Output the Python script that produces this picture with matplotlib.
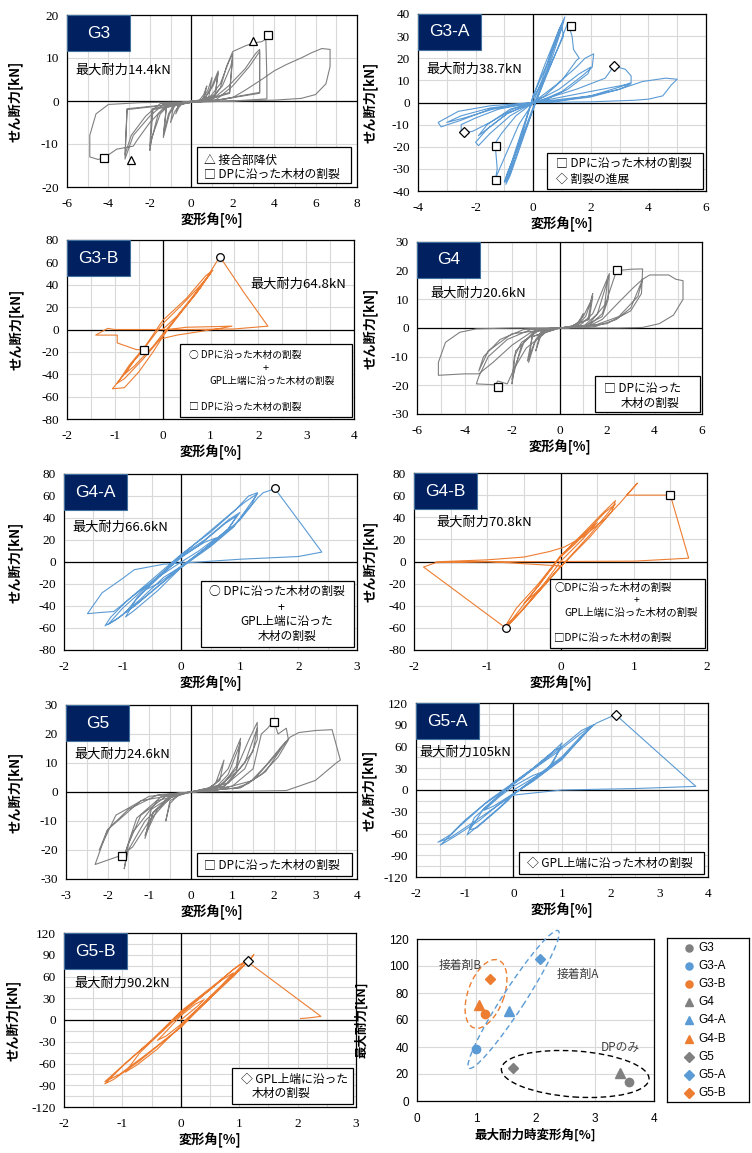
import numpy as np
import matplotlib.pyplot as plt
from matplotlib.patches import Rectangle, Ellipse
import matplotlib.transforms as mtransforms

plt.rcParams['font.family'] = ['Noto Sans CJK JP', 'DejaVu Sans']
plt.rcParams['axes.unicode_minus'] = False

W, H = 752, 1153
GRAY = '#808080'
BLUE = '#5b9bd5'
ORANGE = '#ed7d31'
NAVY = '#002060'

# ---- hysteresis paths (deformation angle [%], shear force [kN]) ----
g3_path = [
    (0, 0), (0.4, 0.2), (0.6, 1.5), (0.75, 3.5), (0.6, 0.5), (0.2, -0.2), (-0.4, -0.4), (-0.6, -1.5), (-0.75, -3), (-0.6, -0.5), (0, 0),
    (0.5, 0.2), (0.8, 2.5), (1.0, 5.5), (0.85, 1), (0.3, -0.2), (-0.5, -0.4), (-0.8, -2.5), (-1.0, -5), (-0.85, -1), (0, -0.2),
    (0.6, 0.2), (1.0, 3.5), (1.3, 7), (1.15, 1.5), (0.4, 0), (-0.7, -0.5), (-1.05, -3), (-1.35, -8.5), (-1.2, -1.5), (0, -0.3),
    (0.6, 0.3), (1.05, 3.5), (1.3, 6.5), (1.15, 1.2), (0.4, 0), (-0.8, -0.5), (-1.1, -3), (-1.35, -8), (-1.2, -1.2), (0, -0.3),
    (0.8, 0.3), (1.4, 4), (1.8, 9), (2.0, 11), (1.85, 2), (0.6, 0), (-1.0, -0.6), (-1.5, -3), (-1.9, -8.5), (-2.0, -11.5), (-1.85, -2), (0, -0.3),
    (0.9, 0.3), (1.5, 3.5), (1.9, 8), (2.0, 10), (1.85, 1.8), (0.6, 0), (-1.1, -0.6), (-1.6, -3), (-2.0, -10.5), (-1.9, -1.8), (0, -0.3),
    (1.0, 0.3), (1.8, 3.5), (2.6, 7.5), (3.1, 11), (3.3, 12), (3.3, 2), (1.0, 0), (-1.3, -0.6), (-2.0, -3.5), (-2.8, -8), (-3.2, -13.5), (-3.1, -2), (0, -0.3),
    (1.2, 0.3), (2.0, 3.5), (2.8, 8), (3.3, 11.5), (3.3, 1.8), (1.0, 0), (-1.5, -0.6), (-2.2, -3.5), (-2.9, -8), (-3.2, -12.5), (-3.1, -1.8), (0, -0.3),
    (1.0, 0.3), (1.4, 3), (1.7, 8), (2.0, 11.5), (2.6, 12.8), (3.0, 13.5), (3.4, 13.8), (3.6, 14.4), (3.65, 5), (3.65, 0.5), (2, 0),
    (-2.5, -0.4), (-4.0, -0.8), (-4.6, -3), (-4.9, -8), (-4.9, -13), (-4.5, -13.6), (-4.2, -13.2), (-3.6, -11.2), (-2.8, -10.5), (-2.6, -9),
    (-2.0, -5), (-1.4, -2), (-0.8, -0.5), (0, -0.3),
    (2.0, 0), (4.0, 0.2), (5.3, 0.6), (6.0, 1.5), (6.5, 4), (6.7, 8), (6.7, 12), (6.3, 12.2), (5.8, 11.2), (5.3, 10), (4.6, 8.5),
    (4.0, 7), (3.4, 5), (2.6, 2.5), (2.0, 0.8), (1.5, 0.3),
]
g3a_path = [
    (0, 0), (0.3, 10), (0.6, 22), (0.9, 33), (1.1, 38.7), (1.0, 34), (0.5, 18), (0, 3), (-0.3, -10), (-0.6, -22), (-0.85, -33), (-0.95, -37), (-0.8, -33), (-0.4, -18), (0, -3),
    (0.35, 9), (0.7, 22), (1.0, 34), (1.05, 30), (0.5, 14), (0, 2), (-0.4, -13), (-0.75, -27), (-1.0, -36), (-0.9, -32), (-0.4, -16), (0, -2),
    (0.4, 12), (0.8, 28), (1.05, 37), (0.9, 33), (0.4, 17), (0, 3), (-0.4, -15), (-0.8, -30), (-0.95, -36), (-0.8, -32), (-0.4, -17), (0, -3),
    (0.3, 7), (0.9, 26), (1.2, 36), (1.35, 30), (1.4, 24), (1.6, 20), (1.5, 19), (1.0, 10), (0.4, 3), (0, 0),
    (-0.5, -10), (-1.0, -25), (-1.3, -34), (-1.25, -30), (-1.3, -22), (-1.35, -19), (-1.1, -14), (-0.6, -6), (0, 0),
    (0.8, 8), (1.5, 16), (1.8, 20), (2.1, 22), (2.05, 16), (1.7, 12), (1.0, 5), (0.3, 1), (0, 0), (-0.8, -6), (-1.5, -14), (-1.9, -19.5), (-2.0, -18), (-1.6, -12), (-0.9, -5), (0, 0),
    (0.9, 6), (1.6, 13), (2.0, 16), (1.9, 13), (1.2, 6), (0.4, 1), (0, 0), (-0.9, -5), (-1.6, -12), (-1.9, -15), (-1.6, -10), (-0.8, -3), (0, 0),
    (1.5, 6), (2.5, 11), (2.8, 16.5), (3.2, 15), (3.4, 12), (3.4, 9), (3.0, 7), (2.0, 3), (1.0, 1), (0, 0),
    (-1.2, -3), (-2.0, -7), (-2.5, -10), (-2.5, -14), (-2.1, -13), (-1.5, -9), (-0.7, -3), (0, 0),
    (1.6, 4), (2.6, 6.5), (3.4, 8.5), (3.0, 6), (2.0, 2.5), (0.8, 0.5), (0, 0), (-1.4, -3), (-2.4, -7), (-3.0, -9), (-2.5, -6), (-1.5, -2.5), (0, 0),
    (2.0, 3), (3.0, 6), (3.8, 9.5), (4.6, 11), (5.0, 10.5), (4.8, 8), (4.5, 3), (4.0, 1.5), (3.5, 1), (2.0, 0.3), (0, 0),
    (-1.5, -1.5), (-2.6, -4), (-3.3, -9), (-3.2, -11), (-2.5, -8), (-1.5, -3), (0, 0),
]
g3b_path = [
    (0, 0), (0.3, 12), (0.6, 28), (0.9, 45), (1.0, 50), (0.8, 40), (0.4, 22), (0, 5), (-0.3, -12), (-0.6, -28), (-0.8, -40), (-0.6, -33), (-0.2, -15), (0, -4),
    (0.35, 14), (0.7, 32), (1.05, 53), (0.9, 48), (0.5, 28), (0, 8), (-0.35, -14), (-0.7, -32), (-0.95, -48), (-0.8, -44), (-0.4, -26), (0, -6),
    (0.4, 16), (0.8, 38), (1.15, 62), (1.2, 64.8), (1.7, 33), (2.2, 3), (1.5, 0.5), (0.5, 0), (-0.5, 0), (-1.0, 0), (-1.15, 1), (-1.4, -5),
    (-0.95, -5), (-0.95, -12), (-0.55, -18), (-0.4, -18), (-0.6, -28), (-0.8, -40), (-1.05, -53), (-0.8, -52), (-0.5, -38), (-0.2, -20),
    (0.1, 0), (0.5, 2), (1.0, 2.5), (1.45, 3), (1.2, 1), (0.3, -5), (0, -8),
]
g4_path = [
    (0, 0), (0.5, 0.5), (0.8, 2), (1.0, 5), (0.8, 1), (0, 0), (-0.5, -0.5), (-0.8, -3), (-1.0, -8), (-0.8, -1.5), (0, 0),
    (0.6, 0.5), (1.0, 4), (1.3, 9), (1.4, 12), (1.2, 3), (0.4, 0.3), (-0.6, -0.5), (-1.0, -4), (-1.3, -12), (-1.15, -3), (0, 0),
    (0.7, 0.5), (1.1, 4), (1.4, 11), (1.25, 3), (0.4, 0.3), (-0.7, -0.5), (-1.05, -5), (-1.35, -11.5), (-1.15, -3), (0, 0),
    (0.8, 0.5), (1.4, 5), (1.8, 13), (2.1, 19), (2.05, 10), (1.8, 4), (1.0, 0.5), (0, 0), (-0.9, -0.5), (-1.5, -5), (-1.9, -14), (-2.0, -19.5), (-1.9, -10), (-1.6, -5), (-0.8, -0.5), (0, 0),
    (1.0, 0.5), (1.6, 5), (2.0, 16), (2.05, 18), (1.9, 8), (1.2, 1), (0, 0), (-1.0, -0.5), (-1.6, -6), (-2.0, -18), (-1.85, -8), (-1.0, -1), (0, 0),
    (1.2, 0.5), (1.8, 5), (2.2, 15), (2.4, 20), (3.0, 20.5), (3.5, 20.6), (3.45, 12), (3.0, 6), (2.0, 1.5), (0.6, 0.3),
    (-1.2, -0.5), (-2.2, -4), (-3.0, -10), (-3.4, -17), (-3.5, -19.5), (-2.7, -19.8), (-2.6, -18.5), (-2.2, -19.5), (-1.9, -14), (-1.4, -7), (-0.5, -1), (0, 0),
    (1.5, 0.5), (2.4, 3), (3.0, 7), (3.5, 17), (3.3, 11), (2.5, 4), (1.5, 1), (0, 0), (-1.5, -0.5), (-2.5, -4), (-3.2, -10), (-3.4, -15), (-3.0, -8), (-2.0, -2), (0, 0),
    (2.5, 0), (3.5, 0.2), (4.2, 1.5), (4.8, 4.5), (5.2, 10), (5.2, 16.5), (4.9, 17), (4.6, 18.5), (3.8, 18.5), (3.5, 17), (3.1, 14), (2.5, 9), (1.8, 3), (1.2, 0.5),
    (0, 0), (-2.0, 0), (-3.5, -0.3), (-4.2, -1.5), (-4.8, -5), (-5.1, -12), (-5.1, -16.5), (-4.0, -16), (-3.4, -16), (-2.8, -12), (-2.0, -6), (-1.2, -1.5), (0, 0),
]
g4a_path = [
    (0, 0), (0.3, 10), (0.6, 22), (0.4, 18), (0, 5), (-0.3, -10), (-0.6, -25), (-0.4, -20), (0, -4),
    (0.4, 12), (0.8, 30), (1.0, 45), (0.8, 38), (0.4, 20), (0, 6), (-0.4, -14), (-0.75, -32), (-0.95, -50), (-0.8, -44), (-0.4, -26), (0, -5),
    (0.4, 12), (0.8, 30), (0.95, 42), (0.75, 35), (0.3, 15), (0, 4), (-0.4, -14), (-0.8, -36), (-0.95, -46), (-0.75, -38), (-0.3, -18), (0, -4),
    (0.5, 15), (0.9, 33), (1.2, 52), (1.3, 63), (1.15, 60), (0.9, 46), (0.5, 27), (0, 7), (-0.5, -16), (-0.9, -34), (-1.2, -50), (-1.3, -58),
    (-1.1, -52), (-0.8, -40), (-0.4, -22), (0, -5),
    (0.5, 14), (0.9, 32), (1.3, 62), (1.1, 55), (0.8, 42), (0.4, 24), (0, 6), (-0.5, -18), (-1.0, -42), (-1.25, -57), (-1.05, -50), (-0.7, -34), (-0.3, -14), (0, -4),
    (0.5, 16), (1.0, 38), (1.3, 58), (1.4, 63), (1.6, 66.6), (2.0, 38), (2.4, 9), (2.0, 5), (1.0, 2.5), (0.3, 0), (-0.3, -2), (-0.8, -7),
    (-1.0, -15), (-1.35, -28), (-1.6, -47), (-1.4, -46), (-1.15, -45), (-0.8, -30), (-0.4, -14), (0, 0),
]
g4b_path = [
    (0, 0), (0.3, 20), (0.5, 35), (0.3, 24), (0, 5), (-0.3, -22), (-0.5, -38), (-0.3, -26), (0, -5),
    (0.4, 22), (0.7, 45), (0.75, 55), (0.55, 42), (0.2, 18), (0, 5), (-0.3, -20), (-0.6, -42), (-0.75, -58), (-0.55, -46), (-0.2, -20), (0, -5),
    (0.4, 24), (0.75, 52), (0.6, 44), (0.2, 16), (0, 4), (-0.35, -26), (-0.75, -60), (-0.6, -50), (-0.2, -20), (0, -4),
    (-1.0, 0), (-1.7, -0.3), (-1.0, 1.5), (-0.5, 4), (-0.15, 9), (0.05, 13), (0.3, 22), (0.6, 38), (0.8, 52), (1.05, 70.8),
    (0.9, 60), (1.5, 60), (1.75, 3), (1.0, 0.3), (0, 0), (-1.0, -0.3), (-1.7, -1), (-1.87, -5), (-0.75, -60), (-0.5, -42), (-0.2, -18), (0, 0),
]
g5_path = [
    (0, 0), (0.4, 1), (0.6, 3), (0.8, 11), (0.7, 4), (0.4, 1), (0, 0), (-0.3, -1), (-0.5, -4), (-0.6, -10), (-0.5, -3), (-0.2, -0.5), (0, 0),
    (0.5, 1.5), (0.9, 8), (1.2, 18.5), (1.1, 9), (0.8, 3), (0.3, 0.5), (0, 0), (-0.4, -1), (-0.8, -6), (-1.1, -15), (-0.9, -7), (-0.5, -1.5), (0, 0),
    (0.6, 1.5), (0.9, 6), (1.2, 17), (1.1, 7), (0.6, 1), (0, 0), (-0.4, -1), (-0.9, -7), (-1.1, -16), (-0.95, -6), (-0.4, -1), (0, 0),
    (0.7, 2), (1.1, 8), (1.4, 18), (1.6, 24), (1.6, 18), (1.3, 8), (0.8, 2), (0, 0), (-0.6, -1.5), (-1.2, -8), (-1.5, -18), (-1.6, -26.5), (-1.5, -20), (-1.1, -10), (-0.5, -1.5), (0, 0),
    (0.8, 2), (1.3, 10), (1.6, 22), (1.5, 14), (0.9, 3), (0, 0), (-0.7, -1.5), (-1.3, -9), (-1.6, -22), (-1.4, -14), (-0.8, -3), (0, 0),
    (1.0, 2), (1.5, 8), (1.7, 20), (1.85, 22), (2.0, 24.6), (2.1, 20), (2.3, 22), (2.35, 18), (2.1, 12), (1.7, 6), (1.2, 1.5), (0, 0),
    (-0.8, -1), (-1.5, -6), (-2.0, -13), (-2.3, -25), (-1.7, -22), (-1.4, -19), (-1.0, -10), (-0.5, -2), (0, 0),
    (1.2, 1.5), (1.8, 7), (2.3, 17.5), (2.0, 12), (1.5, 4), (0.6, 0.5), (0, 0), (-1.0, -1.5), (-1.8, -8), (-2.2, -20), (-2.0, -13), (-1.2, -3), (0, 0),
    (1.4, 0.3), (2.3, 0.5), (3.0, 4), (3.5, 10), (3.6, 11), (3.4, 21.5), (3.0, 21.2), (2.6, 20.5), (2.4, 19), (2.2, 16), (1.8, 9), (1.4, 3), (1.0, 1),
]
g5a_path = [
    (0, 0), (0.3, 12), (0.6, 25), (0.4, 20), (0, 5), (-0.3, -10), (-0.6, -28), (-0.4, -22), (0, -5),
    (0.4, 12), (0.7, 28), (1.0, 60), (0.85, 55), (0.5, 35), (0.2, 18), (0, 8), (-0.3, -8), (-0.6, -25), (-0.9, -55), (-0.75, -52), (-0.4, -32), (-0.1, -14), (0, -6),
    (0.4, 14), (0.8, 35), (1.0, 65), (0.8, 52), (0.4, 30), (0, 10), (-0.4, -14), (-0.8, -38), (-0.95, -62), (-0.7, -48), (-0.3, -25), (0, -6),
    (0.5, 18), (1.0, 44), (1.4, 72), (1.65, 90), (1.4, 82), (1.0, 60), (0.5, 34), (0, 10), (-0.5, -14), (-1.0, -42), (-1.3, -62), (-1.55, -72),
    (-1.3, -66), (-0.9, -48), (-0.4, -25), (0, -6),
    (0.5, 17), (1.0, 42), (1.6, 88), (1.35, 76), (0.9, 52), (0.4, 28), (0, 8), (-0.6, -20), (-1.1, -50), (-1.5, -76), (-1.2, -64), (-0.7, -42), (-0.3, -20), (0, -6),
    (0.5, 20), (1.0, 46), (1.4, 75), (1.7, 92), (2.1, 104), (3.75, 5), (2.5, 2), (1.0, 0), (0, -7),
]
g5b_path = [
    (0, 0), (0.3, 20), (0.4, 28), (0.25, 22), (0, 6), (-0.3, -20), (-0.4, -28), (-0.25, -22), (0, -6),
    (0.4, 24), (0.7, 48), (0.9, 65), (0.7, 55), (0.4, 35), (0, 8), (-0.4, -22), (-0.7, -45), (-0.95, -72), (-0.75, -62), (-0.4, -40), (0, -8),
    (0.45, 26), (0.8, 54), (1.1, 80), (0.9, 70), (0.5, 42), (0, 10), (-0.5, -28), (-0.9, -56), (-1.3, -85), (-1.05, -75), (-0.6, -48), (0, -10),
    (0.5, 30), (0.9, 60), (1.2, 85), (1.0, 76), (0.6, 50), (0, 12), (-0.5, -28), (-1.0, -64), (-1.3, -88), (-1.15, -82), (-0.7, -56), (0, -10),
    (0.5, 32), (0.9, 62), (1.15, 80), (1.25, 90), (1.15, 80), (2.4, 5), (2.2, 3), (2.05, 2),
]

# event markers (marker, x, y)
g3_marks = [('^', 3.0, 14.0), ('^', -2.9, -13.8), ('s', 3.7, 15.3), ('s', -4.2, -13.3)]
g3a_marks = [('s', 1.3, 34.5), ('s', -1.3, -19.5), ('s', -1.3, -35), ('D', 2.8, 16.5), ('D', -2.4, -13.5)]
g3b_marks = [('o', 1.2, 65), ('s', -0.4, -18)]
g4_marks = [('s', 2.4, 20.1), ('s', -2.6, -20.5)]
g4a_marks = [('o', 1.6, 67.5)]
g4b_marks = [('o', -0.75, -60), ('s', 1.5, 60)]
g5_marks = [('s', 2.0, 24), ('s', -1.65, -22.2)]
g5a_marks = [('D', 2.1, 103)]
g5b_marks = [('D', 1.15, 81)]

# ---- summary scatter ----
sc_names = ['G3', 'G3-A', 'G3-B', 'G4', 'G4-A', 'G4-B', 'G5', 'G5-A', 'G5-B']
sc_x = [3.57, 0.99, 1.14, 3.42, 1.55, 1.04, 1.62, 2.07, 1.24]
sc_y = [14.4, 38.7, 64.8, 20.6, 66.6, 70.8, 24.6, 105, 90.2]

fig = plt.figure(figsize=(W / 100, H / 100), dpi=100)


def px_axes(l, t, r, b):
    return fig.add_axes([l / W, 1 - b / H, (r - l) / W, (b - t) / H])


panels = [
    dict(name='G3', path=g3_path, marks=g3_marks, color=GRAY, box=(67, 15, 357, 187), peak='14.4',
         xlim=(-6, 8), xs=2, ylim=(-20, 20), ys=10, cap=(0.03, 0.68), ylx=-0.152, minor_y=False,
         lbox=(0.448, 0.023, 0.531, 0.21),
         lines=[('△ 接合部降伏', 0.472, 0.157, 'left', 8.5), ('□ DPに沿った木材の割裂', 0.472, 0.07, 'left', 8.5)]),
    dict(name='G3-A', path=g3a_path, marks=g3a_marks, color=BLUE, box=(418, 14, 706, 191), peak='38.7',
         xlim=(-4, 6), xs=2, ylim=(-40, 40), ys=10, cap=(0.03, 0.69), ylx=-0.142, minor_y=False,
         lbox=(0.448, 0.011, 0.542, 0.204),
         lines=[('□ DPに沿った木材の割裂', 0.479, 0.153, 'left', 8.5), ('◇ 割裂の進展', 0.479, 0.068, 'left', 8.5)]),
    dict(name='G3-B', path=g3b_path, marks=g3b_marks, color=ORANGE, box=(67, 240, 354, 419), peak='64.8',
         xlim=(-2, 4), xs=1, ylim=(-80, 80), ys=20, cap=(0.64, 0.754), ylx=-0.153, minor_y=False,
         lbox=(0.394, 0.011, 0.599, 0.408),
         lines=[('○ DPに沿った木材の割裂', 0.425, 0.358, 'left', 7), ('+', 0.693, 0.285, 'center', 8),
                ('GPL上端に沿った木材の割裂', 0.495, 0.212, 'left', 7), ('□ DPに沿った木材の割裂', 0.425, 0.067, 'left', 7)]),
    dict(name='G4', path=g4_path, marks=g4_marks, color=GRAY, box=(417, 242, 702, 414), peak='20.6',
         xlim=(-6, 6), xs=2, ylim=(-30, 30), ys=10, cap=(0.046, 0.70), ylx=-0.14, minor_y=False,
         lbox=(0.625, 0.012, 0.368, 0.209),
         lines=[('□ DPに沿った', 0.656, 0.151, 'left', 8.5), ('木材の割裂', 0.716, 0.064, 'left', 8.5)]),
    dict(name='G4-A', path=g4a_path, marks=g4a_marks, color=BLUE, box=(64, 474, 357, 650), peak='66.6',
         xlim=(-2, 3), xs=1, ylim=(-80, 80), ys=20, cap=(0.03, 0.70), ylx=-0.143, minor_y=False,
         lbox=(0.468, 0.017, 0.522, 0.375),
         lines=[('○ DPに沿った木材の割裂', 0.495, 0.33, 'left', 8.5), ('+', 0.74, 0.24, 'center', 9),
                ('GPL上端に沿った', 0.76, 0.16, 'center', 8.5), ('木材の割裂', 0.76, 0.074, 'center', 8.5)]),
    dict(name='G4-B', path=g4b_path, marks=g4b_marks, color=ORANGE, box=(414, 473, 707, 650), peak='70.8',
         xlim=(-2, 2), xs=1, ylim=(-80, 80), ys=20, cap=(0.075, 0.72), ylx=-0.126, minor_y=False,
         lbox=(0.464, 0.011, 0.529, 0.389),
         lines=[('○DPに沿った木材の割裂', 0.478, 0.35, 'left', 7.5), ('+', 0.761, 0.283, 'center', 7.5),
                ('GPL上端に沿った木材の割裂', 0.512, 0.209, 'left', 7.5), ('□DPに沿った木材の割裂', 0.478, 0.068, 'left', 7.5)]),
    dict(name='G5', path=g5_path, marks=g5_marks, color=GRAY, box=(66, 705, 357, 879), peak='24.6',
         xlim=(-3, 4), xs=1, ylim=(-30, 30), ys=10, cap=(0.03, 0.72), ylx=-0.15, minor_y=False,
         lbox=(0.45, 0.017, 0.533, 0.132),
         lines=[('□ DPに沿った木材の割裂', 0.474, 0.08, 'left', 8.5)]),
    dict(name='G5-A', path=g5a_path, marks=g5a_marks, color=BLUE, box=(416, 703, 708, 877), peak='105',
         xlim=(-2, 4), xs=1, ylim=(-120, 120), ys=30, cap=(0.01, 0.72), ylx=-0.134, minor_y=True,
         lbox=(0.353, 0.017, 0.633, 0.127),
         lines=[('◇ GPL上端に沿った木材の割裂', 0.38, 0.08, 'left', 8.5)]),
    dict(name='G5-B', path=g5b_path, marks=g5b_marks, color=ORANGE, box=(64, 933, 356, 1107), peak='90.2',
         xlim=(-2, 3), xs=1, ylim=(-120, 120), ys=30, cap=(0.034, 0.71), ylx=-0.15, minor_y=True,
         lbox=(0.575, 0.017, 0.415, 0.207),
         lines=[('◇ GPL上端に沿った', 0.606, 0.16, 'left', 8.5), ('木材の割裂', 0.644, 0.075, 'left', 8.5)]),
]


def set_ticks(ax, xt, yt, family, size):
    ax.set_xticks(xt, labels=['%g' % v for v in xt], fontfamily=family, fontsize=size)
    ax.set_yticks(yt, labels=['%g' % v for v in yt], fontfamily=family, fontsize=size)


for p in panels:
    l, t, r, b = p['box']
    ax = px_axes(l, t, r, b)
    pts = np.array(p['path'])
    ax.plot(pts[:, 0], pts[:, 1], color=p['color'], lw=0.8, zorder=3)
    ax.axhline(0, color='black', lw=0.9, zorder=2)
    ax.axvline(0, color='black', lw=0.9, zorder=2)
    for m, mx, my in p['marks']:
        ax.plot(mx, my, marker=m, ms=5.5 if m != 'D' else 5, mfc='white', mec='black', mew=0.9, zorder=5)
    ax.set_xlim(*p['xlim'])
    ax.set_ylim(*p['ylim'])
    xt = np.arange(p['xlim'][0], p['xlim'][1] + 0.01, p['xs'])
    yt = np.arange(p['ylim'][0], p['ylim'][1] + 0.01, p['ys'])
    set_ticks(ax, xt, yt, 'Liberation Serif', 9.5)
    ax.set_xticks(np.arange(p['xlim'][0], p['xlim'][1] + 0.01, p['xs'] / 2), minor=True)
    if p['minor_y']:
        ax.set_yticks(np.arange(p['ylim'][0], p['ylim'][1] + 0.01, p['ys'] / 2), minor=True)
    ax.grid(True, which='both', color='#d9d9d9', lw=0.8, zorder=0)
    ax.set_axisbelow(True)
    ax.tick_params(which='both', length=0)
    ax.tick_params(axis='x', pad=8)
    ax.tick_params(axis='y', pad=6)
    for s in ax.spines.values():
        s.set_color('black')
        s.set_linewidth(0.9)
    ax.set_xlabel('変形角[%]', fontsize=9.5, fontweight='bold', labelpad=2)
    ax.set_ylabel('せん断力[kN]', fontsize=9.5, fontweight='bold')
    ax.yaxis.set_label_coords(p['ylx'], 0.5)
    ax.text(p['cap'][0], p['cap'][1], '最大耐力' + p['peak'] + 'kN',
            transform=ax.transAxes, ha='left', va='center', fontsize=9.5, zorder=6)
    bx, by, bw, bh = p['lbox']
    ax.add_patch(Rectangle((bx, by), bw, bh, transform=ax.transAxes, fc='white', ec='black', lw=0.9, zorder=6))
    for txt, tx, ty, ha, fs in p['lines']:
        ax.text(tx, ty, txt, transform=ax.transAxes, ha=ha, va='center', fontsize=fs, zorder=7)
    # navy title tag
    fig.patches.append(Rectangle((l / W, 1 - (t + 36) / H), 63 / W, 36 / H, transform=fig.transFigure,
                                 fc=NAVY, ec='#41719c', lw=0.8, zorder=5))
    fig.text((l + 31.5) / W, 1 - (t + 18) / H, p['name'], color='white', ha='center', va='center',
             fontsize=12.5, family='Liberation Sans', zorder=6)

# ---- summary panel ----
ax = px_axes(417, 939, 654, 1101)
colors = [GRAY, BLUE, ORANGE] * 3
markers = ['o'] * 3 + ['^'] * 3 + ['D'] * 3
sizes = [6, 6, 6, 7.5, 7.5, 7.5, 5.5, 5.5, 5.5]
for i in range(len(sc_names)):
    ax.plot(sc_x[i], sc_y[i], marker=markers[i], color=colors[i], ms=sizes[i], ls='none', zorder=4)
ax.set_xlim(0, 4)
ax.set_ylim(0, 120)
set_ticks(ax, np.arange(0, 5, 1), np.arange(0, 121, 20), 'Liberation Sans', 8.5)
ax.grid(True, color='#d9d9d9', lw=0.8)
ax.set_axisbelow(True)
ax.tick_params(length=0)
ax.tick_params(axis='x', pad=9)
ax.tick_params(axis='y', pad=6)
for s in ax.spines.values():
    s.set_color('black')
    s.set_linewidth(0.9)
ax.set_xlabel('最大耐力時変形角[%]', fontsize=9, fontweight='bold', labelpad=2)
ax.set_ylabel('最大耐力[kN]', fontsize=9, fontweight='bold')
ax.yaxis.set_label_coords(-0.207, 0.5)


def add_ellipse(ax, cx, cy, w_px, h_px, ang, color):
    tr = fig.dpi_scale_trans + mtransforms.ScaledTranslation(cx, cy, ax.transData)
    e = Ellipse((0, 0), w_px / 100, h_px / 100, angle=ang, transform=tr, fill=False,
                ls=(0, (4, 2.5)), lw=1.0, ec=color, clip_on=False, zorder=3)
    ax.add_patch(e)


add_ellipse(ax, 1.165, 79.3, 72, 36, 70, ORANGE)
add_ellipse(ax, 1.63, 75.2, 164, 22, 57, BLUE)
add_ellipse(ax, 2.67, 20.0, 148, 46, -4, 'black')
ax.text(0.37, 100.7, '接着剤B', fontsize=8.5, color='#404040', va='center')
ax.text(2.35, 94, '接着剤A', fontsize=8.5, color='#404040', va='center')
ax.text(3.1, 40, 'DPのみ', fontsize=8.5, color='#404040', va='center')

# legend panel to the right of the summary plot
lax = px_axes(667, 938, 749, 1102)
lax.set_xlim(0, 82)
lax.set_ylim(164, 0)
lax.set_xticks([])
lax.set_yticks([])
for s in lax.spines.values():
    s.set_color('black')
    s.set_linewidth(0.9)
for i, nm in enumerate(sc_names):
    yy = 10 + 18.1 * i
    lax.plot(22, yy, marker=markers[i], color=colors[i], ms=sizes[i] * 0.85, ls='none')
    lax.text(31, yy, nm, family='Liberation Sans', fontsize=8.5, va='center', ha='left')

fig.savefig('out.png', dpi=100)
